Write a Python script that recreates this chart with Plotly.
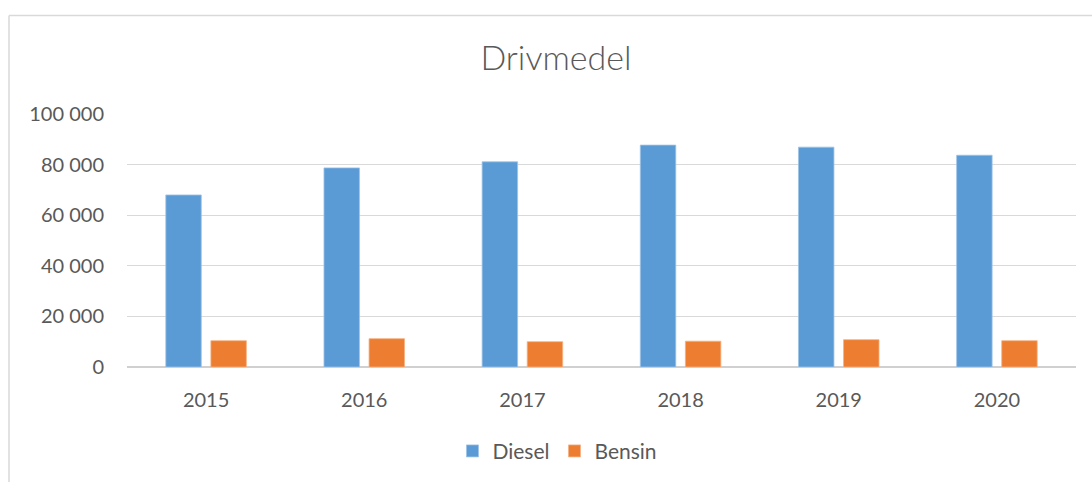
import plotly.graph_objects as go

years = ["2015", "2016", "2017", "2018", "2019", "2020"]
diesel = [68000, 78700, 81100, 87700, 86900, 83700]
bensin = [10400, 11200, 10000, 10200, 10800, 10400]
y_ticks = [0, 20000, 40000, 60000, 80000, 100000]

W, H = 1092, 482
L, R = 127, 1076
T, B = 113.7, 367.5
pw, ph = R - L, B - T

FONT = "Lato"
TXT = "#595959"

fig = go.Figure()
fig.add_trace(go.Bar(name="Diesel", x=years, y=diesel,
                     marker=dict(color="#5B9BD5", line=dict(color="#9DC3E6", width=0.8))))
fig.add_trace(go.Bar(name="Bensin", x=years, y=bensin,
                     marker=dict(color="#ED7D31", line=dict(color="#F4B183", width=0.8))))

fig.update_layout(
    width=W, height=H,
    margin=dict(l=L, r=W - R, t=T, b=H - B, autoexpand=False),
    paper_bgcolor="white", plot_bgcolor="white",
    separators=", ",
    barmode="group", bargap=0.43, bargroupgap=0.213,
    font=dict(family=FONT, color=TXT, size=20),
    title=dict(text="Drivmedel", x=556 / W, xanchor="center",
               y=1 - 58 / H, yanchor="middle",
               font=dict(family=FONT, size=34, color=TXT, weight=300)),
    legend=dict(orientation="h", x=0.4536, xanchor="center", y=(B - 452) / ph, yanchor="middle",
                font=dict(family=FONT, size=21, color=TXT), itemwidth=30, tracegroupgap=0,
                traceorder="normal"),
    xaxis=dict(showgrid=False, showline=False, zeroline=False, ticks="",
               ticklabelstandoff=19, tickfont=dict(size=20, color=TXT)),
    yaxis=dict(range=[0, 100000], tickvals=y_ticks, tickformat=",d",
               showgrid=True, gridcolor="#D9D9D9", gridwidth=1.3,
               zeroline=True, zerolinecolor="#D0D0D0", zerolinewidth=2,
               showline=False, ticks="", ticklabelstandoff=22,
               tickfont=dict(size=20, color=TXT), fixedrange=True),
)

# outer chart frame (cropped on right and bottom)
fig.add_shape(type="line", xref="paper", yref="paper",
              x0=(9 - L) / pw, x1=(W + 10 - L) / pw, y0=(B - 15) / ph, y1=(B - 15) / ph,
              line=dict(color="#D9D9D9", width=1.5))
fig.add_shape(type="line", xref="paper", yref="paper",
              x0=(9 - L) / pw, x1=(9 - L) / pw, y0=(B - 15) / ph, y1=(B - H - 10) / ph,
              line=dict(color="#D9D9D9", width=1.5))

fig.write_html("out.html", config={"displayModeBar": False},
               post_script="document.body.style.margin='0';document.body.style.overflow='hidden';")
